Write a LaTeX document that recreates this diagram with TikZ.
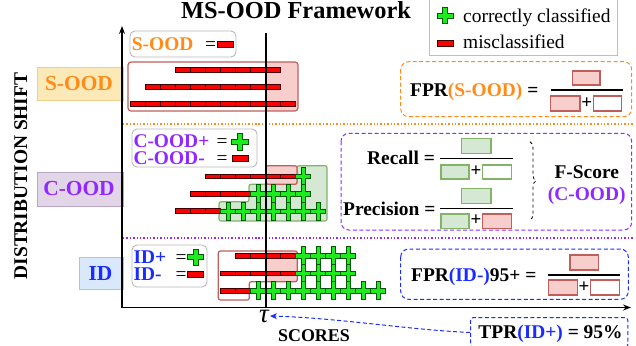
\documentclass[tikz,border=0pt]{standalone}
\usepackage{fontspec}
\setmainfont{Liberation Serif}
\usetikzlibrary{arrows.meta,decorations.pathreplacing}
\definecolor{sood}{RGB}{255,140,25}
\definecolor{cood}{RGB}{145,40,255}
\definecolor{idc}{RGB}{25,45,255}
\definecolor{pinkf}{RGB}{248,206,204}
\definecolor{pinkd}{RGB}{190,95,92}
\definecolor{greenf}{RGB}{213,232,212}
\definecolor{greend}{RGB}{130,179,102}
\definecolor{barred}{RGB}{255,0,0}
\definecolor{bargreen}{RGB}{30,235,30}
\definecolor{soodF}{RGB}{252,233,184}
\definecolor{soodD}{RGB}{240,205,140}
\definecolor{coodF}{RGB}{225,213,231}
\definecolor{coodD}{RGB}{185,165,200}
\definecolor{idF}{RGB}{218,232,252}
\definecolor{idD}{RGB}{170,196,235}
\newcommand\fszA{\rmfamily\fontsize{19.5}{23}\selectfont}
\newcommand\fszL{\rmfamily\fontsize{21.5}{25}\selectfont\bfseries}
\tikzset{
 minusr/.pic={\filldraw[fill=barred,draw=black!75!red,line width=0.5pt] (-7.5,-2.4) rectangle (7.5,2.4);},
 plusg/.pic={\filldraw[fill=bargreen,draw=black!65!green,line width=0.5pt]
   (-7.5,-2.2) -- (-2.2,-2.2) -- (-2.2,-9) -- (2.2,-9) -- (2.2,-2.2) -- (7.5,-2.2) -- (7.5,2.2) -- (2.2,2.2) -- (2.2,9) -- (-2.2,9) -- (-2.2,2.2) -- (-7.5,2.2) -- cycle;},
 minusL/.pic={\filldraw[fill=barred,draw=black!75!red,line width=0.5pt] (-7.8,-2.8) rectangle (7.8,2.8);},
 plusL/.pic={\filldraw[fill=bargreen,draw=black!65!green,line width=0.5pt]
   (-8,-2.4) -- (-2.4,-2.4) -- (-2.4,-8) -- (2.4,-8) -- (2.4,-2.4) -- (8,-2.4) -- (8,2.4) -- (2.4,2.4) -- (2.4,8) -- (-2.4,8) -- (-2.4,2.4) -- (-8,2.4) -- cycle;},
 txt/.style={inner sep=0pt,font=\fszA\bfseries},
 legtxt/.style={inner sep=0pt,text height=13pt,text depth=0.5pt},
 ptxt/.style={inner sep=0pt,font=\rmfamily\fontsize{19}{21}\selectfont\bfseries},
 pbox/.style={draw=pinkd,fill=pinkf,line width=1.3pt},
 gbox/.style={draw=greend,fill=greenf,line width=1.3pt},
 wpbox/.style={draw=pinkd,fill=white,line width=1.3pt},
 wgbox/.style={draw=greend,fill=white,line width=1.3pt},
 fracline/.style={line width=1.4pt},
 legbox/.style={rounded corners=5pt,draw=gray!55,line width=0.9pt,fill=white},
 hlborder/.style={draw=pinkd,line width=1.2pt},
 dashbox/.style={dashed,dash pattern=on 4pt off 2.5pt,line width=1pt,rounded corners=8pt},
}
\newcommand\mrow[3]{\foreach \k in {#2,...,#3}{\pic at ({138.2+15*\k},#1) {minusr};}}
\newcommand\prow[3]{\foreach \k in {#2,...,#3}{\pic at ({138.2+15*\k},#1) {plusg};}}
\begin{document}
\begin{tikzpicture}[x=1bp,y=-1bp]
\useasboundingbox (0,0) rectangle (636,345);
% title
\node[anchor=base,inner sep=0pt,font=\rmfamily\fontsize{24.5}{28}\selectfont\bfseries] (title) at (296,18.3) {MS-OOD Framework};
% top-right legend
\draw[gray!50,line width=0.8pt,fill=white] (429,-3) rectangle (617,55);
\pic at (445,15.5) {plusL};
\node[anchor=base west,inner sep=0pt,font=\fszA] (lgc) at (463,22) {correctly classified};
\pic at (445,43) {minusL};
\node[anchor=base west,inner sep=0pt,font=\fszA] (lgm) at (463,48.3) {misclassified};
% vertical axis label
\node[rotate=90,anchor=base,inner sep=0pt,font=\rmfamily\fontsize{19.5}{22}\selectfont\bfseries] (dist) at (27,176) {DISTRIBUTION SHIFT};
% category labels
\draw[fill=soodF,draw=soodD,line width=0.8pt] (37,67) rectangle (123,100);
\node[anchor=base,inner sep=0pt,font=\fszL,text=sood] (lsood) at (79,90.5) {S-OOD};
\draw[fill=coodF,draw=coodD,line width=0.8pt] (37,172) rectangle (123,206);
\node[anchor=base,inner sep=0pt,font=\fszL,text=cood] (lcood) at (79,195) {C-OOD};
\draw[fill=idF,draw=idD,line width=0.8pt] (79,257) rectangle (123,289);
\node[anchor=base,inner sep=0pt,font=\fszL,text=idc] (lid) at (100.5,280) {ID};
% separators
\draw[sood,dotted,line width=1.4pt] (123,124) -- (634,124);
\draw[cood,dotted,line width=1.4pt] (123,238) -- (634,238);
% legend boxes
\draw[legbox] (130,31) rectangle (236,57);
\node[anchor=base west,txt,legtxt,text=sood] (lgs) at (131.7,50) {S-OOD};
\node[anchor=base,legtxt,font=\fszA] (lgse) at (210.5,50) {=};
\pic at (225.5,44) {minusL};
\draw[legbox] (132,129) rectangle (257,167);
\node[anchor=base west,txt,legtxt,text=cood] (lgcp) at (133.3,147.3) {C-OOD+};
\node[anchor=base,legtxt,font=\fszA] (lgcpe) at (222,147.3) {=};
\pic[scale=1.05] at (240,141.7) {plusL};
\node[anchor=base west,txt,legtxt,text=cood] (lgcm) at (133.3,164.3) {C-OOD-};
\node[anchor=base,legtxt,font=\fszA] (lgcme) at (222,164.3) {=};
\pic at (240.5,158.5) {minusL};
\draw[legbox] (132,245) rectangle (207,287);
\node[anchor=base west,txt,legtxt,text=idc] (lgip) at (133.3,263.3) {ID+};
\node[anchor=base,legtxt,font=\fszA] (lgipe) at (181,263.3) {=};
\pic at (195.5,257) {plusL};
\node[anchor=base west,txt,legtxt,text=idc] (lgim) at (133.3,280.7) {ID-};
\node[anchor=base,legtxt,font=\fszA] (lgime) at (181,280.7) {=};
\pic at (195.5,274.5) {minusL};
% S-OOD highlight
\fill[white,rounded corners=3pt] (128,62) rectangle (298,111);
\begin{scope}
\clip[rounded corners=3pt] (128,62) rectangle (298,111);
\fill[pinkf] (266,62) rectangle (298,111);
\end{scope}
\draw[hlborder,rounded corners=3pt] (128,62) rectangle (298,111);
% C-OOD highlight
\draw[fill=greenf,draw=greend,line width=1.2pt,rounded corners=2pt] (297,165.7) -- (327,165.7) -- (327,221) -- (219,221) -- (219,201.7) -- (249,201.7) -- (249,184.3) -- (297,184.3) -- cycle;
\draw[fill=pinkf,hlborder,rounded corners=2pt] (266,165.7) rectangle (297,184.3);
% ID highlight
\fill[white,rounded corners=2pt] (218.3,251) -- (297.3,251) -- (297.3,281.7) -- (249.3,281.7) -- (249.3,300) -- (218.3,300) -- cycle;
\begin{scope}
\clip (218.3,251) -- (297.3,251) -- (297.3,281.7) -- (249.3,281.7) -- (249.3,300) -- (218.3,300) -- cycle;
\fill[pinkf] (266,251) rectangle (298,282);
\end{scope}
\draw[hlborder,rounded corners=2pt] (218.3,251) -- (297.3,251) -- (297.3,281.7) -- (249.3,281.7) -- (249.3,300) -- (218.3,300) -- cycle;
% bars
\mrow{69.7}{3}{9}
\mrow{87}{1}{9}
\mrow{104}{0}{10}
\mrow{176.3}{5}{10}
\pic at ({138.2+15*11},176.3) {plusg};
\mrow{193.7}{4}{7}
\prow{193.7}{8}{11}
\mrow{211}{3}{5}
\prow{211}{6}{12}
\mrow{255.7}{7}{10}
\prow{255.7}{11}{14}
\mrow{273.3}{6}{10}
\prow{273.3}{11}{14}
\mrow{290.7}{6}{7}
\prow{290.7}{8}{16}
% threshold and axes
\coordinate (tautop) at (266,33);
\coordinate (taubot) at (266,307.5);
\draw[line width=1.3pt] (tautop) -- (taubot);
\coordinate (origin) at (122,307.5);
\coordinate (yend) at (122,26);
\coordinate (xend) at (631,307.5);
\draw[line width=1.2pt,-{Stealth[length=8pt,width=6pt]}] (origin) -- (yend);
\draw[line width=1.2pt,-{Stealth[length=8pt,width=6pt]}] (origin) -- (xend);
\node[inner sep=1pt,font=\rmfamily\itshape\fontsize{27}{30}\selectfont] (tau) at (264,316) {τ};
\node[anchor=base,inner sep=0pt,font=\rmfamily\fontsize{18}{21}\selectfont\bfseries] (scores) at (314,341.5) {SCORES};
% FPR S-OOD box
\draw[sood,dashbox] (400.7,61.7) rectangle (631.7,116.7);
\node[anchor=base west,txt] (fprs) at (410,96) {FPR\textcolor{sood}{(S-OOD)} =};
\draw[pbox] (572.7,71) rectangle (600,85);
\draw[fracline] (550.7,90) -- (623.3,90);
\draw[pbox] (550.7,96) rectangle (580,111);
\node[ptxt] (fprsplus) at (586.7,103) {+};
\draw[wpbox] (593.3,96) rectangle (621.7,111);
% C-OOD box
\draw[cood,dashbox] (341,133.3) rectangle (631.7,230);
\node[anchor=base west,txt] (recall) at (367,164.3) {Recall =};
\draw[gbox] (461.7,138.3) rectangle (491,153.3);
\draw[fracline] (440,158.3) -- (513.3,158.3);
\draw[gbox] (441,165) rectangle (469,179);
\node[ptxt] (recplus) at (476,171.5) {+};
\draw[wgbox] (482.7,165) rectangle (511.7,179);
\node[anchor=base west,txt] (prec) at (343,215) {Precision =};
\draw[gbox] (461.7,188.3) rectangle (491,203.3);
\draw[fracline] (440,208.3) -- (513.3,208.3);
\draw[gbox] (441,214) rectangle (469,228.3);
\node[ptxt] (precplus) at (476,220.5) {+};
\draw[pbox] (482.7,214) rectangle (511.7,228.3);
\draw[dashed,line width=0.8pt,decorate,decoration={brace,amplitude=6pt}] (530,141.7) -- (530,220);
\node[anchor=base,txt] (fscore) at (586.7,178.5) {F-Score};
\node[anchor=base,txt,text=cood] (fscood) at (586.7,200) {(C-OOD)};
% FPR ID box
\draw[idc,dashbox] (400.7,249) rectangle (628.3,299.3);
\node[anchor=base west,txt] (fprid) at (411,281.7) {FPR\textcolor{idc}{(ID-)}95+ =};
\draw[pbox] (570,255) rectangle (598.3,270);
\draw[fracline] (548.3,275) -- (620,275);
\draw[pbox] (548.3,280) rectangle (577.3,295);
\node[ptxt] (fpridplus) at (584,287) {+};
\draw[wpbox] (590.7,280) rectangle (619.3,295);
% TPR box
\node[draw=idc,dashed,dash pattern=on 4pt off 2.5pt,line width=1pt,rounded corners=3pt,minimum width=158,minimum height=30,anchor=north west,inner sep=0pt] (tpr) at (470,317) {};
\node[anchor=base,txt] (tprtxt) at (550.5,338) {TPR\textcolor{idc}{(ID+)} = 95\%};
\draw[idc,dashed,dash pattern=on 4pt off 2.5pt,line width=1pt,-{Stealth[length=7pt,width=6pt]}] (tpr.west) .. controls (410,330) and (340,318) .. (tau.east);
\end{tikzpicture}
\end{document}
